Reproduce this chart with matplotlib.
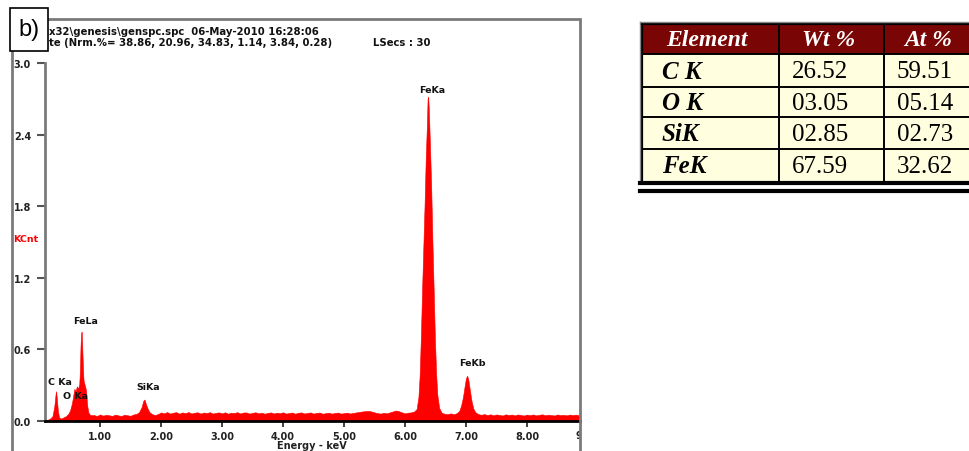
#!/usr/bin/env python3
"""EDS spectrum (panel b) with the element quantification table."""

import matplotlib
matplotlib.use('Agg')
import matplotlib.pyplot as plt
from matplotlib.patches import Rectangle

# Spectrum: energy (keV) and counts (KCnt)
energy = [
    0.10, 0.14, 0.18, 0.22, 0.25, 0.27, 0.28, 0.29, 0.31, 0.33, 0.36, 0.40,
    0.44, 0.48, 0.51, 0.54, 0.56, 0.58, 0.60, 0.62, 0.64, 0.66, 0.67, 0.68,
    0.69, 0.70, 0.71, 0.72, 0.73, 0.75, 0.77, 0.79, 0.81, 0.84,
    0.90, 0.95, 1.00, 1.05, 1.10, 1.15, 1.20, 1.25, 1.30, 1.35, 1.40, 1.45,
    1.50, 1.55, 1.60, 1.64, 1.68, 1.71, 1.73, 1.75, 1.78, 1.81, 1.85, 1.90,
    1.95, 2.00, 2.05, 2.10, 2.15, 2.20, 2.25, 2.30, 2.35, 2.40, 2.45, 2.50,
    2.55, 2.60, 2.65, 2.70, 2.75, 2.80, 2.85, 2.90, 2.95, 3.00, 3.05, 3.10,
    3.15, 3.20, 3.25, 3.30, 3.35, 3.40, 3.45, 3.50, 3.55, 3.60, 3.65, 3.70,
    3.75, 3.80, 3.85, 3.90, 3.95, 4.00, 4.05, 4.10, 4.15, 4.20, 4.25, 4.30,
    4.35, 4.40, 4.45, 4.50, 4.55, 4.60, 4.65, 4.70, 4.75, 4.80, 4.85, 4.90,
    4.95, 5.00, 5.05, 5.10, 5.15, 5.20, 5.25, 5.30, 5.35, 5.40, 5.45, 5.50,
    5.55, 5.60, 5.65, 5.70, 5.75, 5.80, 5.85, 5.90, 5.95, 6.00, 6.05, 6.10,
    6.15, 6.19, 6.22, 6.24, 6.26, 6.28, 6.30, 6.32, 6.34, 6.36, 6.37, 6.38,
    6.39, 6.41, 6.43, 6.45, 6.47, 6.49, 6.51, 6.53, 6.56, 6.60, 6.65, 6.70,
    6.75, 6.80, 6.85, 6.89, 6.92, 6.95, 6.98, 7.00, 7.02, 7.04, 7.06, 7.09,
    7.12, 7.15, 7.20, 7.25, 7.30, 7.35, 7.40, 7.45, 7.50, 7.55, 7.60, 7.65,
    7.70, 7.75, 7.80, 7.85, 7.90, 7.95, 8.00, 8.05, 8.10, 8.15, 8.20, 8.25,
    8.30, 8.35, 8.40, 8.45, 8.50, 8.55, 8.60, 8.65, 8.70, 8.75, 8.80, 8.87,
]
counts = [
    0.000, 0.010, 0.020, 0.040, 0.120, 0.220, 0.250, 0.200, 0.080, 0.030, 0.020, 0.030,
    0.040, 0.060, 0.090, 0.150, 0.210, 0.270, 0.250, 0.290, 0.270, 0.310, 0.420, 0.620,
    0.740, 0.750, 0.600, 0.450, 0.340, 0.300, 0.260, 0.130, 0.070, 0.050,
    0.050, 0.042, 0.055, 0.045, 0.052, 0.048, 0.043, 0.054, 0.047, 0.042, 0.053, 0.048,
    0.044, 0.055, 0.060, 0.075, 0.115, 0.170, 0.180, 0.145, 0.105, 0.075, 0.058, 0.050,
    0.058, 0.072, 0.064, 0.075, 0.062, 0.070, 0.074, 0.061, 0.072, 0.066, 0.075, 0.063,
    0.070, 0.073, 0.062, 0.071, 0.067, 0.074, 0.062, 0.069, 0.072, 0.064, 0.073, 0.061,
    0.070, 0.067, 0.074, 0.063, 0.071, 0.072, 0.062, 0.069, 0.073, 0.064, 0.070, 0.061,
    0.068, 0.072, 0.063, 0.070, 0.066, 0.073, 0.062, 0.067, 0.071, 0.061, 0.069, 0.072,
    0.063, 0.067, 0.072, 0.062, 0.068, 0.071, 0.061, 0.066, 0.070, 0.062, 0.067, 0.071,
    0.062, 0.066, 0.070, 0.063, 0.068, 0.072, 0.076, 0.080, 0.083, 0.085, 0.080, 0.072,
    0.066, 0.062, 0.069, 0.064, 0.072, 0.080, 0.088, 0.082, 0.072, 0.064, 0.070, 0.072,
    0.080, 0.100, 0.200, 0.380, 0.700, 1.100, 1.450, 1.800, 2.200, 2.500, 2.700, 2.720,
    2.620, 2.300, 1.950, 1.500, 1.100, 0.700, 0.400, 0.220, 0.110, 0.070, 0.060, 0.058,
    0.064, 0.057, 0.066, 0.085, 0.130, 0.200, 0.300, 0.360, 0.380, 0.340, 0.270, 0.170,
    0.105, 0.075, 0.058, 0.052, 0.058, 0.050, 0.056, 0.048, 0.055, 0.051, 0.046, 0.056,
    0.050, 0.054, 0.047, 0.055, 0.050, 0.046, 0.054, 0.049, 0.055, 0.047, 0.052, 0.056,
    0.048, 0.053, 0.050, 0.046, 0.055, 0.049, 0.052, 0.047, 0.054, 0.050, 0.053, 0.048,
]

# Peak labels: (text, energy, counts)
peak_labels = ['FeKa', 'FeLa', 'C Ka', 'O Ka', 'SiKa', 'FeKb']
peak_x = [6.44, 0.77, 0.34, 0.59, 1.79, 7.10]
peak_y = [2.78, 0.84, 0.33, 0.21, 0.29, 0.49]

y_ticks = [0.0, 0.6, 1.2, 1.8, 2.4, 3.0]
x_ticks = [1, 2, 3, 4, 5, 6, 7, 8]

# Quantification table
table_header = ['Element', 'Wt %', 'At %']
elements = ['C K', 'O K', 'SiK', 'FeK']
wt_pct = ['26.52', '03.05', '02.85', '67.59']
at_pct = ['59.51', '05.14', '02.73', '32.62']

W, H = 970, 452
fig = plt.figure(figsize=(W / 100, H / 100), dpi=100)

# pixel helpers for layout
def fx(px):
    return px / W

def fy(py):
    return 1 - py / H

# ---- spectrum axes ----
ax = fig.add_axes([fx(45), fy(422), fx(580) - fx(45), fy(20) - fy(422)])
ax.fill_between(energy, counts, 0, color='#ff0000', linewidth=0.4, edgecolor='#ff0000')
ax.set_xlim(0.098, 8.869)
ax.set_ylim(0, 3.37)

for side in ['top', 'right']:
    ax.spines[side].set_visible(False)
ax.spines['left'].set_color('#7a7a7a')
ax.spines['left'].set_linewidth(2)
ax.spines['left'].set_bounds(0, 3.0)
ax.spines['bottom'].set_color('black')
ax.spines['bottom'].set_linewidth(2)

ax.set_yticks(y_ticks)
ax.set_yticklabels([f'{v:.1f}' for v in y_ticks])
ax.set_xticks(x_ticks)
ax.set_xticklabels([f'{v:.2f}' for v in x_ticks])
ax.tick_params(axis='y', direction='out', length=6, width=1.5, color='#555555',
               labelsize=7, pad=4, labelcolor='#222222')
ax.tick_params(axis='x', direction='out', length=4, width=1.3, color='#333333',
               labelsize=7, pad=3, labelcolor='#222222')
for lab in ax.get_xticklabels() + ax.get_yticklabels():
    lab.set_fontweight('bold')

for lab, px_, py_ in zip(peak_labels, peak_x, peak_y):
    ax.text(px_, py_, lab, ha='center', va='center', fontsize=6.8,
            fontweight='bold', color='#111111')

# partial "9.00" label, cut by the window frame
clip = Rectangle((0, 0), fx(581), 1, transform=fig.transFigure)
t9 = ax.text(9.0, -0.035, '9.00', transform=ax.get_xaxis_transform(),
             ha='center', va='center', fontsize=7, fontweight='bold',
             color='#222222', clip_on=True)
t9.set_clip_path(clip)

# ---- overlay in pixel coordinates for frame, header text and table ----
ov = fig.add_axes([0, 0, 1, 1])
ov.set_xlim(0, W)
ov.set_ylim(H, 0)
ov.axis('off')

# window frame
ov.add_patch(Rectangle((12, 20), 568, 460, fill=False, edgecolor='#7a7a7a', linewidth=2))

ov.text(49, 32, 'x32\\genesis\\genspc.spc  06-May-2010 16:28:06', fontsize=7.3,
        fontweight='bold', va='center', ha='left', color='#111111')
ov.text(49, 43, 'te (Nrm.%= 38.86, 20.96, 34.83, 1.14, 3.84, 0.28)', fontsize=7.3,
        fontweight='bold', va='center', ha='left', color='#111111')
ov.text(373, 43, 'LSecs : 30', fontsize=7.3, fontweight='bold', va='center',
        ha='left', color='#111111')
ov.text(26, 240, 'KCnt', fontsize=6.8, fontweight='bold', color='#ff0000',
        ha='center', va='center')
ov.text(312, 446, 'Energy - keV', fontsize=7, fontweight='bold', color='#222222',
        ha='center', va='center')

# panel letter
ov.add_patch(Rectangle((10, 9), 38, 43, facecolor='white', edgecolor='black',
                       linewidth=1.2, zorder=5))
ov.text(29, 30, 'b)', fontsize=17, ha='center', va='center', zorder=6,
        family='Liberation Sans')

# table
col_edges = [642, 779, 884, 989]
row_edges = [25, 55, 88, 118, 150, 182]
serif = 'Liberation Serif'

ov.add_patch(Rectangle((col_edges[0], row_edges[0]), col_edges[-1] - col_edges[0],
                       row_edges[1] - row_edges[0], facecolor='#7a0505', edgecolor='none'))
ov.add_patch(Rectangle((col_edges[0], row_edges[1]), col_edges[-1] - col_edges[0],
                       row_edges[-1] - row_edges[1], facecolor='#ffffe0', edgecolor='none'))

for r in row_edges[1:-1]:
    ov.plot([col_edges[0], col_edges[-1]], [r, r], color='black', lw=1.4)
for c in col_edges[1:-1]:
    ov.plot([c, c], [row_edges[0], row_edges[-1]], color='black', lw=1.4)
ov.plot([col_edges[0], col_edges[0]], [row_edges[0], row_edges[-1]], color='black', lw=1.6)
ov.plot([col_edges[0] - 2, col_edges[0] - 2], [row_edges[0] - 2, row_edges[-1]],
        color='#888888', lw=1)
ov.plot([col_edges[0], col_edges[-1]], [row_edges[0], row_edges[0]], color='black', lw=1.6)
ov.plot([col_edges[0] - 2, col_edges[-1]], [row_edges[0] - 2, row_edges[0] - 2],
        color='#888888', lw=1)
ov.plot([col_edges[0] - 2, col_edges[-1]], [row_edges[-1] + 2, row_edges[-1] + 2],
        color='black', lw=3)
ov.plot([col_edges[0] - 2, col_edges[-1]], [row_edges[-1] + 9.5, row_edges[-1] + 9.5],
        color='black', lw=3)

head_x = [707, 829, 928]
for txt, hx in zip(table_header, head_x):
    ov.text(hx, (row_edges[0] + row_edges[1]) / 2 + 1, txt, color='white',
            fontsize=17, fontweight='bold', fontstyle='italic', family=serif,
            ha='center', va='center')

for i, (el, wt, at) in enumerate(zip(elements, wt_pct, at_pct)):
    yc = (row_edges[i + 1] + row_edges[i + 2]) / 2 + 1
    ov.text(662, yc, el, fontsize=18, fontweight='bold', fontstyle='italic',
            family=serif, ha='left', va='center', color='black')
    ov.text(792, yc, wt, fontsize=18, family=serif, ha='left', va='center', color='black')
    ov.text(897, yc, at, fontsize=18, family=serif, ha='left', va='center', color='black')

fig.savefig('out.png', dpi=100)
